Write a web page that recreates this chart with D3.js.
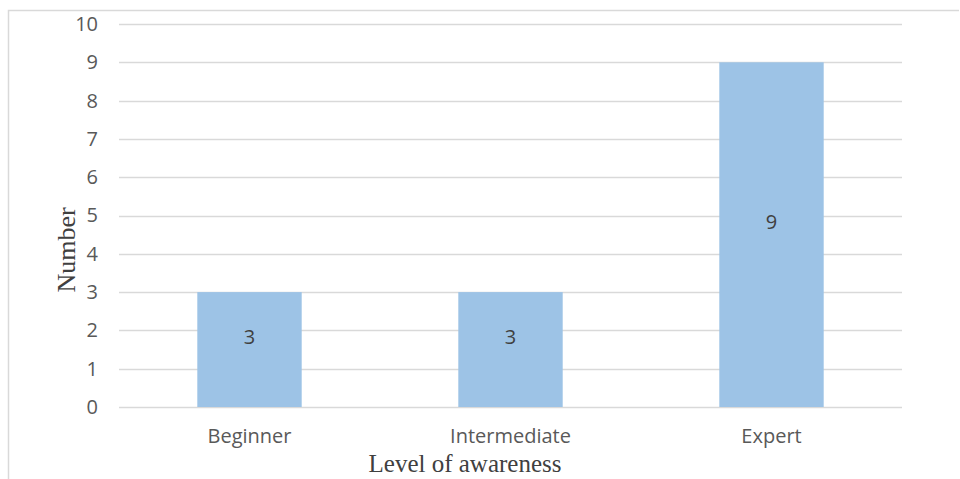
<!DOCTYPE html>
<html>
<head>
<meta charset="utf-8">
<script src="https://cdn.jsdelivr.net/npm/d3@7"></script>
<style>
  html, body { margin: 0; padding: 0; background: #fff; }
  svg { display: block; }
</style>
</head>
<body>
<svg id="chart" width="960" height="479"></svg>
<script>
// Awareness levels and respondent counts
const categories = ["Beginner", "Intermediate", "Expert"];
const counts = [3, 3, 9];
const yTicks = [0, 1, 2, 3, 4, 5, 6, 7, 8, 9, 10];

const svg = d3.select("#chart");
const W = 960, H = 479;
const plot = { left: 119, right: 902, top: 24, bottom: 407 };

// outer frame (top and left edges)
svg.append("path")
  .attr("d", `M8.5,${H} L8.5,10.5 L959,10.5`)
  .attr("fill", "none")
  .attr("stroke", "#d9d9d9")
  .attr("stroke-width", 1.5);

const x = d3.scaleBand()
  .domain(categories)
  .range([plot.left, plot.right])
  .paddingInner(0.6)
  .paddingOuter(0.3);

const y = d3.scaleLinear()
  .domain([0, 10])
  .range([plot.bottom, plot.top]);

// horizontal gridlines
svg.append("g")
  .selectAll("line")
  .data(yTicks)
  .join("line")
  .attr("x1", plot.left)
  .attr("x2", plot.right)
  .attr("y1", d => Math.round(y(d)) + 0.5)
  .attr("y2", d => Math.round(y(d)) + 0.5)
  .attr("stroke", "#d9d9d9")
  .attr("stroke-width", 1.5);

// y axis tick labels
const yAxis = d3.axisLeft(y).tickValues(yTicks).tickSize(0).tickPadding(0);
const gy = svg.append("g")
  .attr("transform", `translate(${plot.left - 21},0)`)
  .call(yAxis);
gy.select(".domain").remove();
gy.selectAll("text")
  .attr("font-family", "'Open Sans', sans-serif")
  .attr("font-size", 20)
  .attr("fill", "#595959");

// bars
svg.append("g")
  .selectAll("rect")
  .data(counts)
  .join("rect")
  .attr("x", (d, i) => x(categories[i]))
  .attr("width", x.bandwidth())
  .attr("y", d => y(d))
  .attr("height", d => y(0) - y(d))
  .attr("fill", "#9dc3e6");

// value labels inside the bars
svg.append("g")
  .selectAll("text")
  .data(counts)
  .join("text")
  .attr("x", (d, i) => x(categories[i]) + x.bandwidth() / 2)
  .attr("y", d => (y(d) + y(0)) / 2 - 13)
  .attr("text-anchor", "middle")
  .attr("dominant-baseline", "central")
  .attr("font-family", "'Open Sans', sans-serif")
  .attr("font-size", 20)
  .attr("fill", "#404040")
  .text(d => d);

// x axis category labels
const xAxis = d3.axisBottom(x).tickSize(0).tickPadding(0);
const gx = svg.append("g")
  .attr("transform", `translate(0,${plot.bottom + 36})`)
  .call(xAxis);
gx.select(".domain").remove();
gx.selectAll("text")
  .attr("dy", "0")
  .attr("font-family", "'Open Sans', sans-serif")
  .attr("font-size", 20)
  .attr("fill", "#595959");

// axis titles
svg.append("text")
  .attr("x", 465)
  .attr("y", 472)
  .attr("text-anchor", "middle")
  .attr("font-family", "'Liberation Serif', 'Times New Roman', serif")
  .attr("font-size", 25)
  .attr("fill", "#404040")
  .text("Level of awareness");

svg.append("text")
  .attr("transform", "translate(75,250) rotate(-90)")
  .attr("text-anchor", "middle")
  .attr("font-family", "'Liberation Serif', 'Times New Roman', serif")
  .attr("font-size", 26)
  .attr("fill", "#404040")
  .text("Number");
</script>
</body>
</html>
